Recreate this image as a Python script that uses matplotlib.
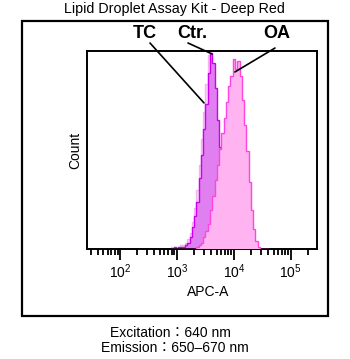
import numpy as np
import matplotlib
matplotlib.use("Agg")
import matplotlib.pyplot as plt
from matplotlib.patches import Rectangle

plt.rcParams['font.family'] = ['Liberation Sans', 'Noto Sans CJK TC', 'DejaVu Sans']
plt.rcParams['mathtext.fontset'] = 'custom'
plt.rcParams['mathtext.rm'] = 'Liberation Sans'
plt.rcParams['mathtext.it'] = 'Liberation Sans:italic'
plt.rcParams['mathtext.bf'] = 'Liberation Sans:bold'

# ---- data ----
title = "Lipid Droplet Assay Kit - Deep Red"
x_label = "APC-A"
y_label = "Count"
footer = ["Excitation\uff1a640 nm", "Emission\uff1a650\u2013670 nm"]

bin_start_log = 2.90   # log10 of first bin edge
bin_step_log = 0.04    # bin width in log10 units

ctr_counts = [1, 0, 1, 1, 2, 2, 3, 5, 8, 14, 21, 30, 43, 56, 70, 84, 99, 93, 80, 64,
              49, 35, 24, 15, 9, 5, 3, 1, 1, 0, 0, 0, 0, 0, 0, 0, 0, 0, 0, 0, 0, 0, 0]
tc_counts = [0, 1, 0, 1, 1, 1, 2, 3, 6, 11, 17, 24, 36, 48, 61, 74, 90, 100, 95, 82,
             66, 52, 38, 26, 16, 10, 5, 3, 2, 1, 0, 0, 0, 0, 0, 0, 0, 0, 0, 0, 0, 0, 0]
oa_counts = [0, 0, 0, 0, 0, 0, 0, 0, 0, 0, 0, 1, 2, 3, 6, 9, 13, 20, 27, 35,
             43, 51, 59, 67, 75, 83, 88, 97, 92, 96, 88, 76, 63, 50, 34, 20, 10, 4, 1, 0, 0, 0, 0]

labels = ["TC", "Ctr.", "OA"]

W, H = 350, 359
fig = plt.figure(figsize=(W / 100, H / 100), dpi=100)

# axes placement (pixels)
L, R, T, B = 87, 317, 51, 249
ax = fig.add_axes([L / W, 1 - B / H, (R - L) / W, (B - T) / H])

n = len(tc_counts)
edges = 10 ** (bin_start_log + bin_step_log * np.arange(n + 1))

ax.stairs(ctr_counts, edges, fill=True, facecolor='#fcd4f7', edgecolor='none', zorder=1)
ax.stairs(ctr_counts, edges, fill=False, edgecolor='#f4b4ef', lw=1.0, zorder=1.1)
ax.stairs(tc_counts, edges, fill=True, facecolor='#df7ff0', edgecolor='none', zorder=2)
ax.stairs(tc_counts, edges, fill=False, edgecolor='#cc00ee', lw=1.0, zorder=2.1)
ax.stairs(oa_counts, edges, fill=True, facecolor='#ffb3f1', edgecolor='none', zorder=3)
ax.stairs(oa_counts, edges, fill=False, edgecolor='#ff44e0', lw=1.0, zorder=3.1)

ax.set_xscale('log')
ax.set_xlim(26, 2.9e5)
ax.set_ylim(0, 101)
ax.set_xticks([1e2, 1e3, 1e4, 1e5])
ax.tick_params(axis='x', which='major', direction='out', length=8, width=1.3, pad=1.5, labelsize=10)
ax.tick_params(axis='x', which='minor', direction='out', length=4.5, width=1.3)
ax.set_yticks([])
for s in ax.spines.values():
    s.set_linewidth(1.4)

ax.set_xlabel(x_label, fontsize=10)
ax.xaxis.set_label_coords(0.526, -0.18)
ax.set_ylabel(y_label, fontsize=10)
ax.yaxis.set_label_coords(-0.02, 0.5)

# title and footer
fig.text(174.5 / W, 1 - 9 / H, title, ha='center', va='center', fontsize=10.3)
fig.text(170 / W, 1 - 333 / H, footer[0], ha='center', va='center', fontsize=10)
fig.text(174.5 / W, 1 - 348 / H, footer[1], ha='center', va='center', fontsize=10)

# outer frame
fig.patches.append(Rectangle((22 / W, 1 - 316 / H), (328 - 22) / W, (316 - 21) / H,
                             transform=fig.transFigure, fill=False, lw=1.6, ec='black'))

# annotations
label_pos = [(145, 33), (192, 33), (277, 34)]
line_start = [(150, 43), (188, 43), (275, 48)]
line_end = [(10 ** 3.474, 74.5), (10 ** 3.614, 99.5), (10 ** 4.018, 90.3)]
for lab, (tx, ty), (sx, sy), xy in zip(labels, label_pos, line_start, line_end):
    fig.text(tx / W, 1 - ty / H, lab, ha='center', va='center', fontsize=13, fontweight='bold')
    ax.annotate('', xy=xy, xycoords='data', xytext=(sx / W, 1 - sy / H),
                textcoords='figure fraction',
                arrowprops=dict(arrowstyle='-', color='black', lw=1.2, shrinkA=0, shrinkB=0),
                annotation_clip=False, zorder=5)

fig.savefig('out.png', dpi=100)
